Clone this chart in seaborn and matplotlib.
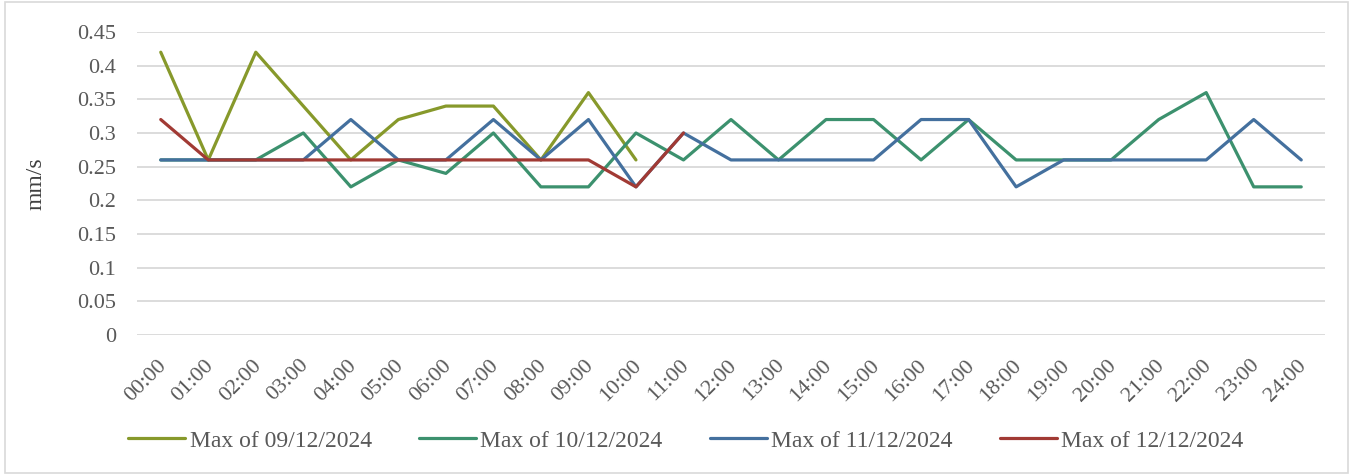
import numpy as np
import pandas as pd
import seaborn as sns
import matplotlib.pyplot as plt
import matplotlib.transforms as mtransforms
from matplotlib.patches import Rectangle

hours = [f"{h:02d}:00" for h in range(25)]

# hourly maximum speed per day, mm/s (NaN = no reading)
max_0912 = [0.42, 0.26, 0.42, 0.34, 0.26, 0.32, 0.34, 0.34, 0.26, 0.36, 0.26] + [np.nan] * 14
max_1012 = [0.26, 0.26, 0.26, 0.30, 0.22, 0.26, 0.24, 0.30, 0.22, 0.22, 0.30, 0.26, 0.32,
            0.26, 0.32, 0.32, 0.26, 0.32, 0.26, 0.26, 0.26, 0.32, 0.36, 0.22, 0.22]
max_1112 = [0.26, 0.26, 0.26, 0.26, 0.32, 0.26, 0.26, 0.32, 0.26, 0.32, 0.22, 0.30, 0.26,
            0.26, 0.26, 0.26, 0.32, 0.32, 0.22, 0.26, 0.26, 0.26, 0.26, 0.32, 0.26]
max_1212 = [0.32, 0.26, 0.26, 0.26, 0.26, 0.26, 0.26, 0.26, 0.26, 0.26, 0.22, 0.30] + [np.nan] * 13

series = {
    "Max of 09/12/2024": max_0912,
    "Max of 10/12/2024": max_1012,
    "Max of 11/12/2024": max_1112,
    "Max of 12/12/2024": max_1212,
}
colors = ["#87992B", "#3C916E", "#44709E", "#A13A34"]

sns.set_theme(style="white")
plt.rcParams['font.family'] = ['Liberation Serif', 'DejaVu Serif']

fig = plt.figure(figsize=(13.6, 4.75), dpi=100)
ax = fig.add_axes([137 / 1360, 1 - 335 / 475, (1325 - 137) / 1360, (335 - 32) / 475])

x = np.arange(len(hours))
for (name, vals), col in zip(series.items(), colors):
    df = pd.DataFrame({"x": x, "y": vals}).dropna()
    sns.lineplot(data=df, x="x", y="y", ax=ax, color=col, linewidth=2.3, label=name)

ax.set_xlim(-0.5, len(hours) - 0.5)
ax.set_ylim(0, 0.45)
ax.set_yticks(np.arange(0, 0.451, 0.05))
ax.set_yticklabels(["0", "0.05", "0.1", "0.15", "0.2", "0.25", "0.3", "0.35", "0.4", "0.45"])
ax.set_xticks(x)
ax.set_xticklabels(hours, rotation=45, ha="right", rotation_mode="anchor")
ax.tick_params(axis="y", length=0, pad=15, labelsize=16, labelcolor="#595959")
ax.tick_params(axis="x", length=0, pad=15, labelsize=16, labelcolor="#595959")
shift = mtransforms.ScaledTranslation(-4 / 100, 0, fig.dpi_scale_trans)
for lbl in ax.get_xticklabels():
    lbl.set_transform(lbl.get_transform() + shift)
ax.grid(axis="y", color="#d9d9d9", linewidth=1.3)
ax.set_axisbelow(True)
for s in ax.spines.values():
    s.set_visible(False)
ax.set_xlabel("")
ax.set_ylabel("mm/s", fontsize=17, color="#404040", labelpad=22)

handles, labels = ax.get_legend_handles_labels()
ax.legend_.remove()
fig.legend(handles, labels, loc="center", bbox_to_anchor=(686 / 1360, 1 - 441 / 475), ncol=4,
           frameon=False, fontsize=17, handlelength=2.4, handletextpad=0.2,
           columnspacing=2.0, labelcolor="#595959")

fig.patches.append(Rectangle((5 / 1360, 2 / 475), 1343 / 1360, 471 / 475, transform=fig.transFigure,
                             fill=False, edgecolor="#d9d9d9", linewidth=1.2))

fig.savefig("out.png", dpi=100)
